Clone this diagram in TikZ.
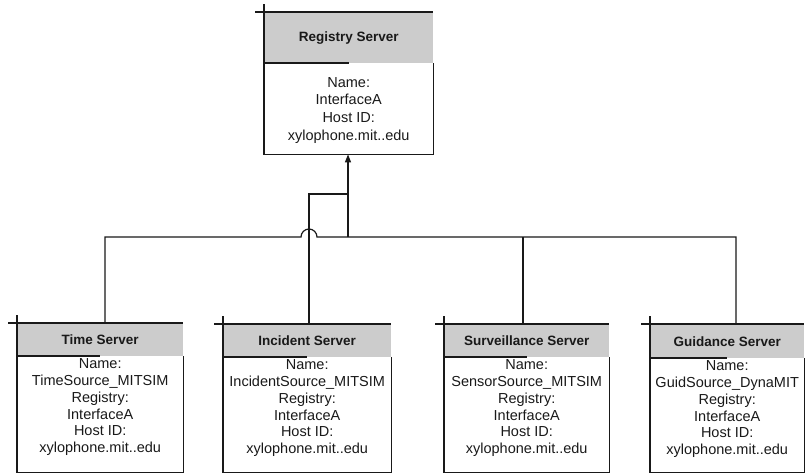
\documentclass[tikz,border=0pt]{standalone}
\usepackage{fontspec}
\setmainfont{Liberation Sans}
\usetikzlibrary{arrows.meta}
\definecolor{hdrgray}{gray}{0.80}
\definecolor{ink}{gray}{0.10}

\tikzset{
  hdrcell/.style={rectangle, fill=hdrgray, inner sep=0pt, anchor=north west,
    font=\bfseries\fontsize{13.5}{16}\selectfont, text=ink},
  bodycell/.style={rectangle, inner sep=0pt, anchor=north west},
  bodytext/.style={inner sep=0pt, align=center, anchor=north, text=ink,
    font=\fontsize{14.5}{16.8}\selectfont},
  regtext/.style={bodytext, font=\fontsize{14.5}{17.7}\selectfont},
  frame/.style={draw=ink, line width=1.3pt},
  wire/.style={draw=ink, line width=1.2pt},
}

% #1 id, #2 left, #3 right, #4 top, #5 header bottom, #6 bottom, #7 title
\newcommand\srvbox[7]{%
  \node[hdrcell, minimum width={(#3-#2)*1pt}, minimum height={(#5-#4)*1pt}]
    (#1-h) at (#2,#4) {#7};
  \node[bodycell, minimum width={(#3-#2)*1pt}, minimum height={(#6-#5)*1pt}]
    (#1-b) at (#2,#5) {};
  \draw[frame] ([xshift=-9pt]#1-h.north west) -- (#1-h.north east);
  \draw[frame] ([yshift=8pt]#1-h.north west) -- (#1-b.south west)
    -- (#1-b.south east) -- (#1-b.north east);
  \draw[frame] (#1-b.north west) -- (#1-b.north);
}

\begin{document}
\begin{tikzpicture}[x=1pt, y=-1pt]
  \useasboundingbox (0,0) rectangle (806,474);

  % registry and the four servers
  \srvbox{reg}{264}{433}{12}{63}{154}{Registry Server}
  \srvbox{time}{17}{183}{323}{356}{472}{Time Server}
  \srvbox{inc}{223}{391}{324}{357}{472}{Incident Server}
  \srvbox{surv}{444}{609}{324}{357}{472}{Surveillance Server}
  \srvbox{guid}{650}{804}{324}{358}{472}{Guidance Server}

  % box contents
  \node[regtext] (reg-t) at ([yshift=-14pt]reg-b.north)
    {Name:\\InterfaceA\\Host ID:\\xylophone.mit..edu};
  \node[bodytext] (time-t) at ([yshift=-2.5pt]time-b.north)
    {Name:\\TimeSource\_MITSIM\\Registry:\\InterfaceA\\Host ID:\\xylophone.mit..edu};
  \node[bodytext] (inc-t) at ([yshift=-2.5pt]inc-b.north)
    {Name:\\IncidentSource\_MITSIM\\Registry:\\InterfaceA\\Host ID:\\xylophone.mit..edu};
  \node[bodytext] (surv-t) at ([yshift=-2.5pt]surv-b.north)
    {Name:\\SensorSource\_MITSIM\\Registry:\\InterfaceA\\Host ID:\\xylophone.mit..edu};
  \node[bodytext] (guid-t) at ([yshift=-2.5pt]guid-b.north)
    {Name:\\GuidSource\_DynaMIT\\Registry:\\InterfaceA\\Host ID:\\xylophone.mit..edu};

  % bus taps
  \coordinate (tdrop) at (105,237);
  \coordinate (idrop) at (309,237);
  \coordinate (rdrop) at (348,237);
  \coordinate (sdrop) at (523,237);
  \coordinate (gdrop) at (736,237);
  \coordinate (rknee) at (348,194);

  % bus with a hop over the incident line
  \draw[wire] (tdrop |- time-h.north) -- (tdrop)
    -- ([xshift=-8pt]idrop) arc[start angle=180, end angle=0, radius=8pt]
    -- (gdrop) -- (gdrop |- guid-h.north);
  \draw[wire] (sdrop) -- (sdrop |- surv-h.north);

  % link up to the registry
  \draw[wire, -{Triangle[length=8pt, width=6pt]}] (rdrop) -- (reg-b.south -| rdrop);
  \draw[wire] (rknee) -- (rknee -| idrop) -- (idrop |- inc-h.north);
\end{tikzpicture}
\end{document}
